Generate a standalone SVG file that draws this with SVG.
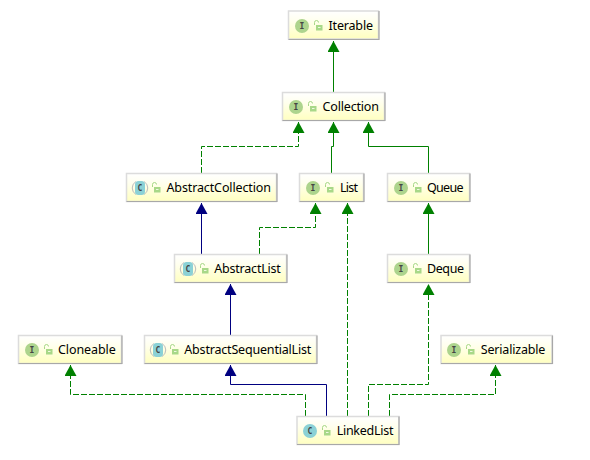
<svg xmlns="http://www.w3.org/2000/svg" width="590" height="460" viewBox="0 0 590 460">
<style>
.box{fill:url(#g);stroke:#dcdcdc;stroke-width:1.5}
.sh{fill:none;stroke:#a8a8a8;stroke-width:1.2}
.t{font:12.5px "Noto Sans",sans-serif;fill:#000}
.c{fill:none;stroke-width:1}
.gr{stroke:#008000}.nv{stroke:#000080}.d{stroke-dasharray:6 2}
.ic{font:bold 8px "DejaVu Sans Mono",monospace;fill:#444;text-anchor:middle}
.iI{fill:#add48d}.iC{fill:#8bd1d6}
.lk{fill:#a8d888}.lko{fill:none;stroke:#a8d888;stroke-width:1}
</style>
<defs>
<linearGradient id="g" x1="0" y1="0" x2="0" y2="1"><stop offset="0" stop-color="#ffffff"/><stop offset=".35" stop-color="#ffffee"/><stop offset="1" stop-color="#ffffbf"/></linearGradient>
<marker id="ag" markerUnits="userSpaceOnUse" markerWidth="12" markerHeight="12" refX="11" refY="6" orient="auto"><path d="M0 0L11 6L0 12z" fill="#008000"/></marker>
<marker id="an" markerUnits="userSpaceOnUse" markerWidth="12" markerHeight="12" refX="11" refY="6" orient="auto"><path d="M0 0L11 6L0 12z" fill="#000080"/></marker>
<g id="lock"><path class="lko" d="M-3.500 -1v-2.500a2 2 0 0 1 4 0"/><rect class="lk" x="-2" y="-1" width="6.500" height="5.500"/><rect x="0" y="1" width="2.500" height="1" fill="#eef8e0"/></g>
<g id="iconI"><circle r="7" class="iI"/><text class="ic" y="3">I</text></g>
<g id="iconC"><path d="M-4 -6.500a7.500 7.500 0 0 0 0 13" fill="none" stroke="#bbb"/><path d="M4 -6.500a7.500 7.500 0 0 1 0 13" fill="none" stroke="#bbb"/><rect x="-5" y="-7" width="10" height="14" rx="3.500" class="iC"/><text class="ic" y="3">C</text></g>
<g id="iconCc"><circle r="7" class="iC"/><text class="ic" y="3">C</text></g>
</defs>
<rect width="590" height="460" fill="#fff"/>
<g id="connectors">
<path class="c gr" marker-end="url(#ag)" d="M333.500 92V41"/>
<path class="c gr d" marker-end="url(#ag)" d="M201.500 173V146.500H298.500V122"/>
<path class="c gr" marker-end="url(#ag)" d="M331.500 173V146.500H333.500V122"/>
<path class="c gr" marker-end="url(#ag)" d="M428.500 173V146.500H368.500V122"/>
<path class="c nv" marker-end="url(#an)" d="M201.500 254V203"/>
<path class="c gr d" marker-end="url(#ag)" d="M259.500 254V227.500H315.500V203"/>
<path class="c gr d" marker-end="url(#ag)" d="M347.500 416V203"/>
<path class="c gr" marker-end="url(#ag)" d="M428.500 254V203"/>
<path class="c nv" marker-end="url(#an)" d="M230.500 335V284"/>
<path class="c gr d" marker-end="url(#ag)" d="M368.500 416V384.500H428.500V284"/>
<path class="c gr d" marker-end="url(#ag)" d="M389.500 416V394.500H495.500V365"/>
<path class="c gr d" marker-end="url(#ag)" d="M305.500 416V394.500H70.500V365"/>
<path class="c nv" marker-end="url(#an)" d="M326.500 416V384.500H230.500V365"/>
</g>
<g id="n-iterable"><rect class="box" x="288.500" y="11" width="90" height="28"/><path class="sh" d="M379 11V39.500H288.500"/><use href="#iconI" x="302" y="26"/><use href="#lock" x="318" y="26"/><text class="t" x="328.500" y="30" textLength="44.500">Iterable</text></g>
<g id="n-collection"><rect class="box" x="282.500" y="92.500" width="102" height="28"/><path class="sh" d="M385 92.500V120.500H282.500"/><use href="#iconI" x="296" y="107"/><use href="#lock" x="312" y="107"/><text class="t" x="322.500" y="111" textLength="56.500">Collection</text></g>
<g id="n-abstractcollection"><rect class="box" x="126.500" y="173.500" width="150" height="28"/><path class="sh" d="M277 173.500V201.500H126.500"/><use href="#iconC" x="140" y="188"/><use href="#lock" x="156" y="188"/><text class="t" x="166.500" y="192" textLength="104.500">AbstractCollection</text></g>
<g id="n-list"><rect class="box" x="299.500" y="173.500" width="64" height="28"/><path class="sh" d="M364 173.500V201.500H299.500"/><use href="#iconI" x="313" y="188"/><use href="#lock" x="329" y="188"/><text class="t" x="340" y="192" textLength="18">List</text></g>
<g id="n-queue"><rect class="box" x="387.500" y="173.500" width="82" height="28"/><path class="sh" d="M470 173.500V201.500H387.500"/><use href="#iconI" x="401" y="188"/><use href="#lock" x="417" y="188"/><text class="t" x="427" y="192" textLength="36.500">Queue</text></g>
<g id="n-abstractlist"><rect class="box" x="174.500" y="254.500" width="112" height="28"/><path class="sh" d="M287 254.500V282.500H174.500"/><use href="#iconC" x="188" y="269"/><use href="#lock" x="204" y="269"/><text class="t" x="214.300" y="273" textLength="66.500">AbstractList</text></g>
<g id="n-deque"><rect class="box" x="387.500" y="254.500" width="82" height="28"/><path class="sh" d="M470 254.500V282.500H387.500"/><use href="#iconI" x="401" y="269"/><use href="#lock" x="417" y="269"/><text class="t" x="427" y="273" textLength="37">Deque</text></g>
<g id="n-cloneable"><rect class="box" x="18.500" y="335.500" width="103" height="28"/><path class="sh" d="M122 335.500V363.500H18.500"/><use href="#iconI" x="32" y="350"/><use href="#lock" x="48" y="350"/><text class="t" x="58" y="354" textLength="57.700">Cloneable</text></g>
<g id="n-abstractsequentiallist"><rect class="box" x="144.500" y="335.500" width="172" height="28"/><path class="sh" d="M317 335.500V363.500H144.500"/><use href="#iconC" x="158" y="350"/><use href="#lock" x="174" y="350"/><text class="t" x="184.300" y="354" textLength="127">AbstractSequentialList</text></g>
<g id="n-serializable"><rect class="box" x="441" y="335.500" width="111" height="28"/><path class="sh" d="M552.500 335.500V363.500H441"/><use href="#iconI" x="454" y="350"/><use href="#lock" x="470" y="350"/><text class="t" x="480.700" y="354" textLength="64.700">Serializable</text></g>
<g id="n-linkedlist"><rect class="box" x="297" y="416.500" width="102" height="28"/><path class="sh" d="M399 416.500V444.500H297"/><use href="#iconCc" x="310" y="431"/><use href="#lock" x="326" y="431"/><text class="t" x="336.700" y="435" textLength="56.700">LinkedList</text></g>
</svg>
